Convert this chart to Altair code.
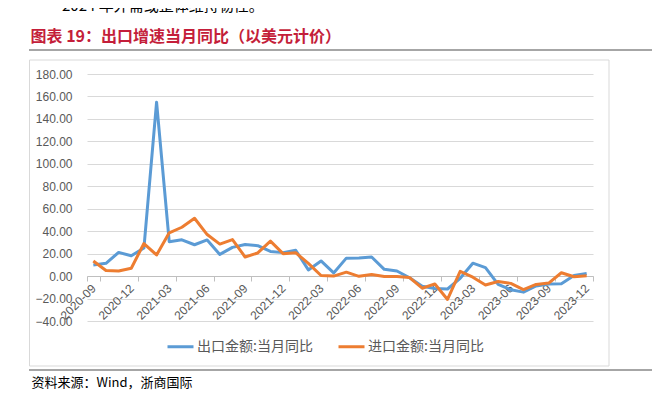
import altair as alt
import pandas as pd

# ---------------- data ----------------
months = [
    "2020-09", "2020-10", "2020-11", "2020-12",
    "2021-01", "2021-02", "2021-03", "2021-04", "2021-05", "2021-06",
    "2021-07", "2021-08", "2021-09", "2021-10", "2021-11", "2021-12",
    "2022-01", "2022-02", "2022-03", "2022-04", "2022-05", "2022-06",
    "2022-07", "2022-08", "2022-09", "2022-10", "2022-11", "2022-12",
    "2023-01", "2023-02", "2023-03", "2023-04", "2023-05", "2023-06",
    "2023-07", "2023-08", "2023-09", "2023-10", "2023-11", "2023-12",
]
export_yoy = [
    9.9, 11.4, 21.1, 18.1,
    25.0, 154.9, 30.6, 32.3, 27.9, 32.2,
    19.3, 25.6, 28.1, 27.1, 22.0, 20.9,
    23.0, 5.5, 13.5, 2.8, 16.0, 16.2,
    17.0, 6.0, 4.5, -1.5, -9.0, -11.0,
    -11.5, -2.0, 11.5, 7.5, -7.3, -12.2,
    -14.3, -8.8, -7.0, -6.8, 0.5, 2.3,
]
import_yoy = [
    13.5, 5.0, 4.5, 7.0,
    29.0, 18.8, 38.5, 43.5, 51.5, 37.0,
    28.5, 32.5, 17.0, 20.6, 31.2, 20.0,
    20.8, 11.3, 0.5, 0.0, 3.5, -0.2,
    1.5, -0.3, -0.3, -1.3, -10.8, -7.0,
    -20.8, 4.2, -1.0, -7.9, -4.8, -6.5,
    -12.0, -7.4, -6.2, 3.0, -0.6, 0.2,
]
series_names = ["出口金额:当月同比", "进口金额:当月同比"]
series_colors = ["#5B9BD5", "#ED7D31"]
y_ticks = [-40, -20, 0, 20, 40, 60, 80, 100, 120, 140, 160, 180]
x_label_months = months[::3]

top_text = "2024 年外需或整体维持韧性。"
title_text = "图表 19：出口增速当月同比（以美元计价）"
source_text = "资料来源：Wind，浙商国际"

df = pd.DataFrame({
    "month": months + months,
    "series": [series_names[0]] * len(months) + [series_names[1]] * len(months),
    "value": export_yoy + import_yoy,
})

W, H = 506, 247
CJK = "Noto Sans CJK SC"
NUM = "Liberation Sans"

lines = alt.Chart(df).mark_line(strokeWidth=3, strokeJoin="round").encode(
    x=alt.X(
        "month:O", sort=months,
        scale=alt.Scale(type="band", paddingInner=0, paddingOuter=0),
        axis=alt.Axis(
            values=x_label_months, title=None, labelAngle=315, labelAlign="right",
            labelBaseline="middle", labelPadding=5, tickBand="extent", tickSize=5,
            tickColor="#BFBFBF", domainColor="#BFBFBF", offset=-45, grid=False,
            labelFontSize=12, labelColor="#595959", labelFont=NUM, zindex=0,
        ),
    ),
    y=alt.Y(
        "value:Q",
        scale=alt.Scale(domain=[-40, 180], nice=False, zero=False),
        axis=alt.Axis(
            values=y_ticks, format=".2f", title=None, domain=False, ticks=False,
            labelPadding=15, gridColor="#D9D9D9", labelFontSize=12,
            labelColor="#595959", labelFont=NUM,
        ),
    ),
    color=alt.Color(
        "series:N", sort=series_names,
        scale=alt.Scale(domain=series_names, range=series_colors),
        legend=alt.Legend(
            title=None, orient="none", legendX=79, legendY=258,
            direction="horizontal", symbolType="stroke", symbolSize=676,
            symbolStrokeWidth=3, labelFontSize=14, labelFont=CJK,
            labelColor="#595959", columnPadding=19, labelOffset=2, padding=0,
        ),
    ),
)

one = alt.Data(values=[{"k": 1}])


def text_layer(text, x, y, size, color, baseline="middle", bold=False, font=CJK):
    return alt.Chart(one).mark_text(
        text=text, align="left", baseline=baseline, fontSize=size, color=color,
        font=font, fontWeight="bold" if bold else "normal",
    ).encode(x=alt.value(x), y=alt.value(y))


def hrule(x1, x2, y, color, width):
    return alt.Chart(one).mark_rule(color=color, strokeWidth=width).encode(
        x=alt.value(x1), x2=alt.value(x2), y=alt.value(y)
    )


box = alt.Chart(one).mark_rect(fill="transparent", stroke="#D9D9D9", strokeWidth=1).encode(
    x=alt.value(-57.5), x2=alt.value(522), y=alt.value(-14), y2=alt.value(292)
)

chart = alt.layer(
    box,
    text_layer(top_text, -25, -60, 15, "#000000", baseline="bottom"),
    text_layer(title_text, -56.5, -37.5, 16, "#C41E3A", bold=True),
    hrule(-58, 565, -24, "#A6A6A6", 2),
    hrule(-58, 565, 296, "#A6A6A6", 2),
    text_layer(source_text, -55.5, 309, 13, "#000000"),
    lines,
).properties(
    width=W, height=H,
    padding={"left": 79, "top": 66, "right": 59, "bottom": 69},
    autosize=alt.AutoSizeParams(type="none"),
).configure_view(stroke="transparent")

chart.save("out.html", embed_options={"renderer": "svg", "actions": False})
